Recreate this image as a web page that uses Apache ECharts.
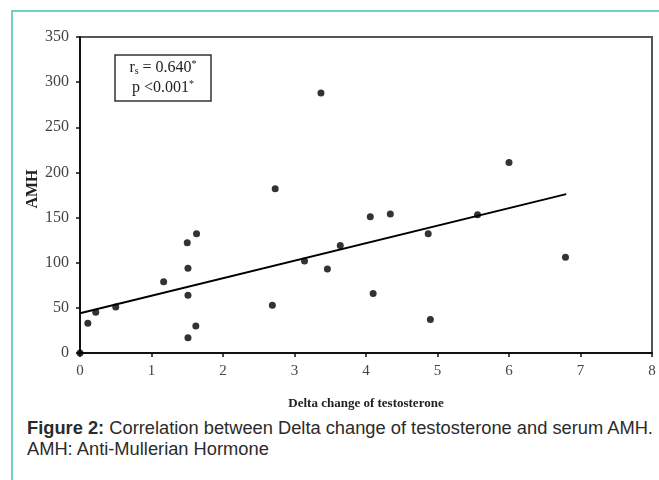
<!DOCTYPE html>
<html>
<head>
<meta charset="utf-8">
<script src="https://cdn.jsdelivr.net/npm/echarts@6/dist/echarts.min.js"></script>
<style>
html,body{margin:0;padding:0;background:#fff;}
#wrap{position:relative;width:659px;height:480px;overflow:hidden;}
#frame{position:absolute;left:11px;top:10px;width:660px;height:480px;border-left:2px solid #6fd3c3;border-top:2px solid #6fd3c3;box-sizing:border-box;}
#chart{position:absolute;left:0;top:0;width:659px;height:415px;}
#cap{position:absolute;left:27px;top:417px;font-family:'Liberation Sans',Arial,sans-serif;font-size:18.3px;line-height:21px;color:#2b2b2b;white-space:nowrap;}
</style>
</head>
<body>
<div id="wrap">
<div id="frame"></div>
<div id="chart"></div>
<div id="cap"><b>Figure 2:</b> Correlation between Delta change of testosterone and serum AMH.<br>AMH: Anti-Mullerian Hormone</div>
</div>
<script>
const deltaT = [0, 0.11, 0.22, 0.50, 1.17, 1.50, 1.63, 1.51, 1.51, 1.62, 1.51, 2.69, 2.73, 3.14, 3.37, 3.46, 3.64, 4.06, 4.10, 4.34, 4.87, 4.90, 5.56, 6.00, 6.79];
const amh    = [0, 33, 45, 51, 79, 122, 132, 94, 64, 30, 17, 53, 182, 102, 288, 93, 119, 151, 66, 154, 132, 37, 153, 211, 106];
const trendX = [0, 6.80];
const trendY = [44, 176];
const xTitle = 'Delta change of testosterone';
const yTitle = 'AMH';

const chart = echarts.init(document.getElementById('chart'), null, {renderer:'canvas'});
const serif = "'Liberation Serif','Times New Roman',serif";
chart.setOption({
  animation:false,
  grid:{left:80, top:37, right:7, bottom:55, show:true, borderColor:'#555', borderWidth:2, backgroundColor:'transparent'},
  xAxis:{type:'value', min:0, max:8, interval:1,
    name:xTitle, nameLocation:'middle', nameGap:44,
    nameTextStyle:{fontFamily:serif, fontWeight:'bold', fontSize:13, color:'#222'},
    axisLine:{show:true, lineStyle:{color:'#111', width:2}},
    axisTick:{show:true, inside:false, length:4, lineStyle:{color:'#111', width:1.5}},
    axisLabel:{fontFamily:serif, fontSize:15, color:'#444', margin:11},
    splitLine:{show:false}},
  yAxis:{type:'value', min:0, max:350, interval:50,
    axisLine:{show:true, lineStyle:{color:'#111', width:2}},
    axisTick:{show:true, inside:false, length:4, lineStyle:{color:'#111', width:1.5}},
    axisLabel:{fontFamily:serif, fontSize:16, color:'#444', margin:11},
    splitLine:{show:false}},
  series:[
    {type:'scatter', data:deltaT.map((x,i)=>[x, amh[i]]), symbol:'circle', symbolSize:7,
     itemStyle:{color:'#000'}, z:3},
    {type:'line', data:trendX.map((x,i)=>[x, trendY[i]]), symbol:'none',
     lineStyle:{color:'#000', width:2}, z:4}
  ],
  graphic:[
    {type:'text', x:33, y:189, rotation:Math.PI/2, z:11, style:{
      text:yTitle, align:'center', verticalAlign:'middle', fontFamily:serif, fontWeight:'bold', fontSize:16, fill:'#222'}},
    {type:'rect', shape:{x:115, y:55, width:96, height:46}, style:{fill:'#fff', stroke:'#333', lineWidth:1.5}, z:10},
    {type:'text', x:163, y:68, z:11, style:{
      text:'{t|r}{sub|s}{t| = 0.640}{sup|*}', align:'center', verticalAlign:'middle',
      rich:{t:{fontFamily:serif, fontSize:16, fill:'#222'}, sub:{fontFamily:serif, fontSize:10, fill:'#222', padding:[7,0,0,0]}, sup:{fontFamily:serif, fontSize:10, fill:'#222', padding:[0,0,7,0]}}}},
    {type:'text', x:163, y:88, z:11, style:{
      text:'{t|p <0.001}{sup|*}', align:'center', verticalAlign:'middle',
      rich:{t:{fontFamily:serif, fontSize:16, fill:'#222'}, sup:{fontFamily:serif, fontSize:10, fill:'#222', padding:[0,0,7,0]}}}}
  ]
});
</script>
</body>
</html>
